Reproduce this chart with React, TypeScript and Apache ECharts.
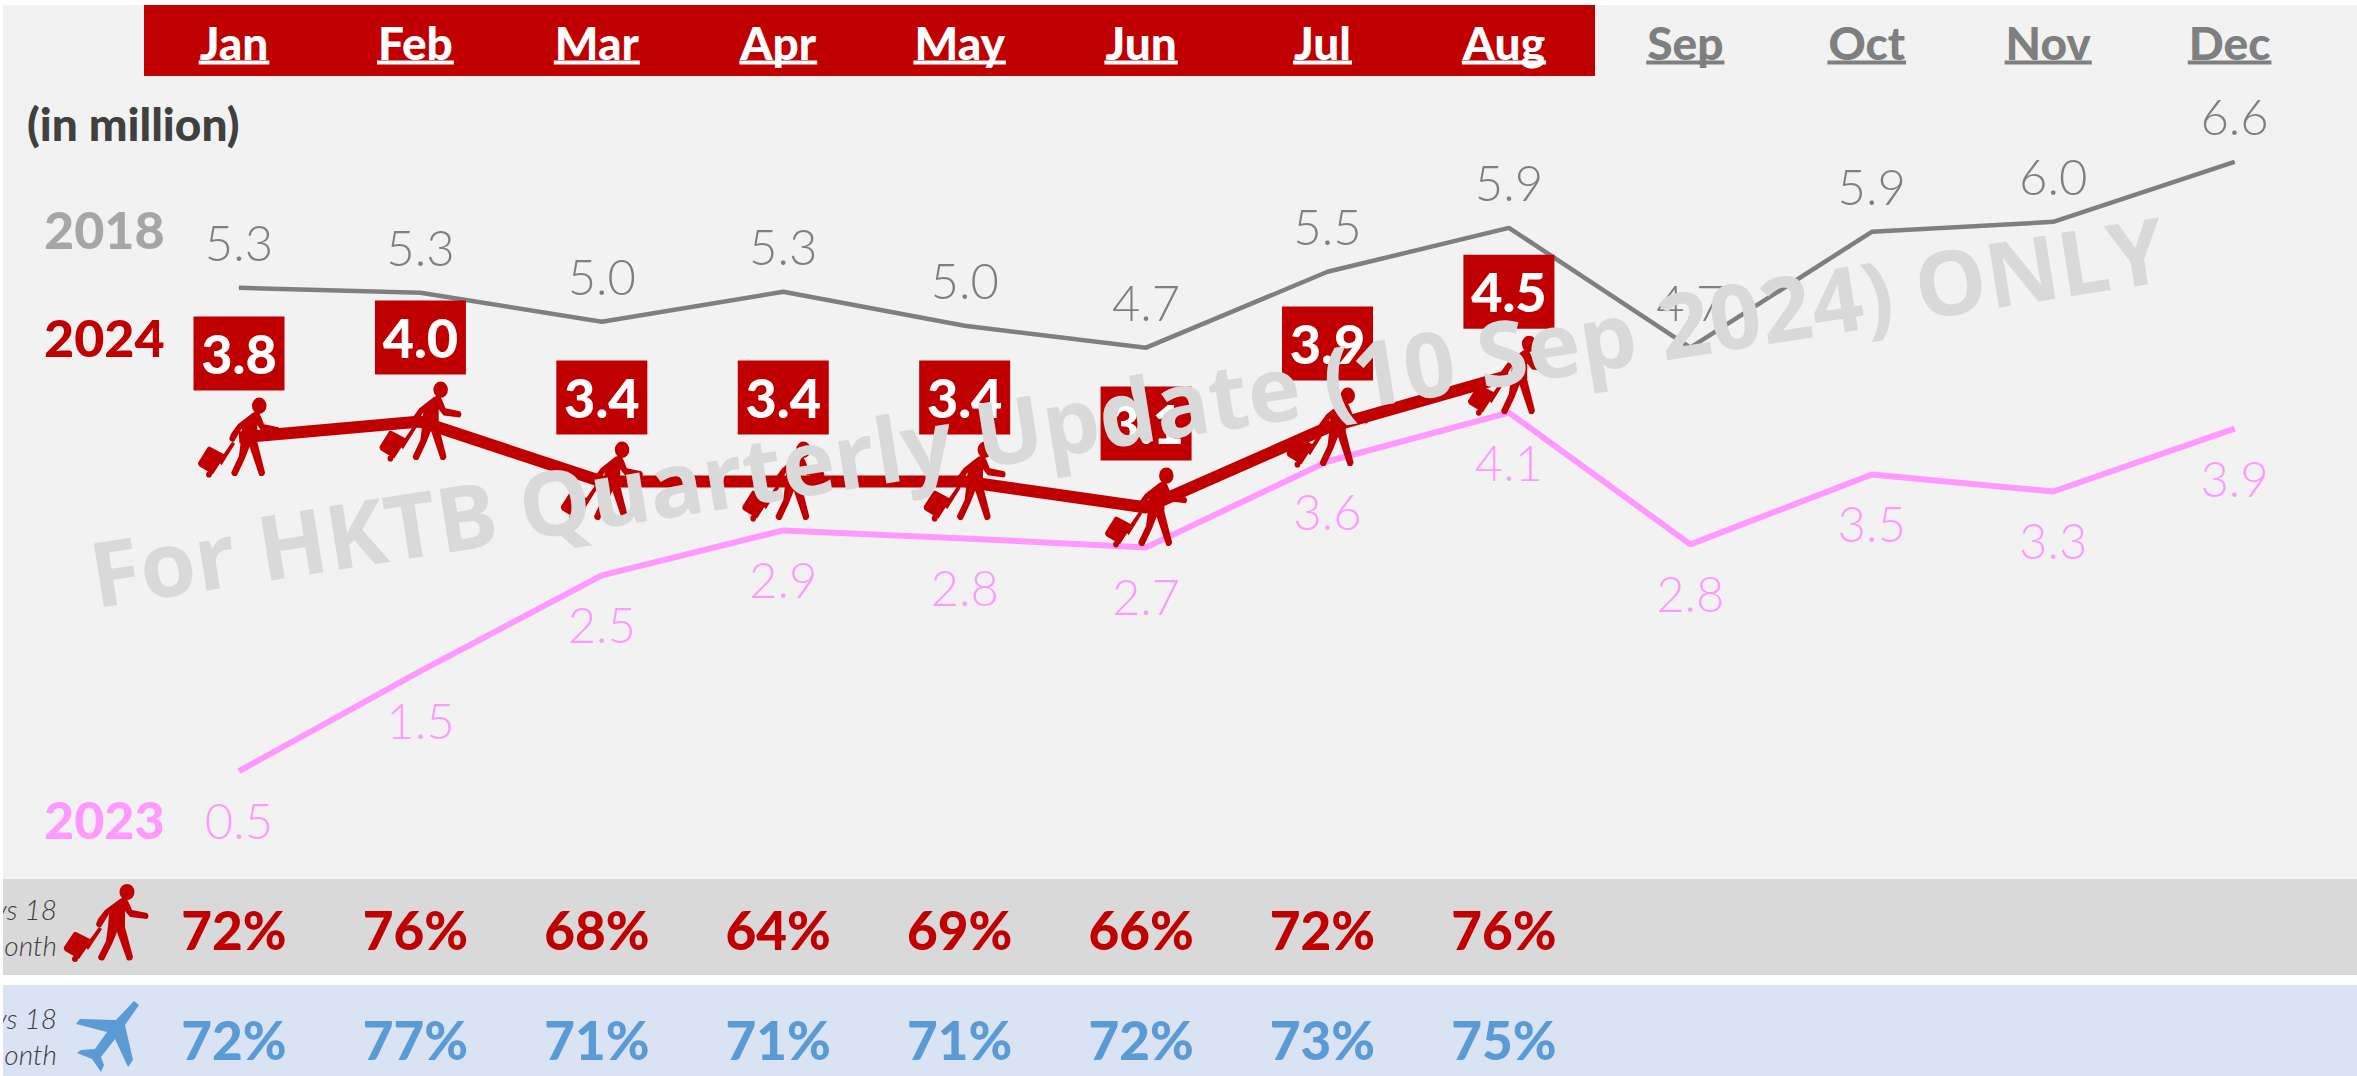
import React, { useEffect, useRef } from "react";
import * as echarts from "echarts";

const months = ["Jan", "Feb", "Mar", "Apr", "May", "Jun", "Jul", "Aug", "Sep", "Oct", "Nov", "Dec"];
const values2018 = [5.34, 5.29, 5.0, 5.3, 4.96, 4.74, 5.5, 5.94, 4.74, 5.9, 6.0, 6.6];
const values2023 = [0.5, 1.5, 2.46, 2.91, 2.83, 2.74, 3.6, 4.09, 2.77, 3.47, 3.3, 3.93];
const values2024 = [3.84, 4.0, 3.4, 3.4, 3.4, 3.14, 3.94, 4.46];
const visitorPct = [72, 76, 68, 64, 69, 66, 72, 76];
const flightPct = [72, 77, 71, 71, 71, 72, 73, 75];

const RED = "#C00000";
const GREY = "#7F7F7F";
const PINK = "#FF99FF";
const BLUE = "#5B9BD5";
const FONT = "Lato";

const personPath =
  "M70.5 8a7.5 8 0 1 1-15 0a7.5 8 0 1 1 15 0Z" +
  "M56 15C60 13 63 14 65 19L68 26L83 29Q86 32 83 35L66 33L61 27L61 43L69 73Q68 78 63 76L53 48L48 60L40 76Q35 78 34 73L42 57L44 42L45 30L37 43Q33 44 32 40L34 35L41 26Z" +
  "M35 43L38 45L24 66L21 62Z" +
  "M12 48L28 56L15 75L1 67Q-1 65 0 63L10 48Z" +
  "M14 75a3 3 0 1 1-6 0a3 3 0 1 1 6 0Z";
const planePath =
  "M58 0L63 4L49 24L57 59L52 66L39 38L25 56L28 64L25 71L16 58L1 52L5 49L19 48L31 31L0 23L4 18L40 19Z";

echarts.graphic.registerShape("personIcon", echarts.graphic.extendPath(personPath, {}) as any);
echarts.graphic.registerShape("planeIcon", echarts.graphic.extendPath(planePath, {}) as any);

function textWidth(t: string, font: string) {
  const c = document.createElement("canvas").getContext("2d")!;
  c.font = font;
  return c.measureText(t).width;
}

const sideText = (text: string, x: number, y: number, fill: string, font: string, align = "left") => ({
  type: "text",
  x,
  y,
  z: 3,
  style: { text, fill, font, textAlign: align, textVerticalAlign: "middle" },
});

const oneDecimal = (p: any) => Number(p.value).toFixed(1);

export default function App() {
  const ref = useRef<HTMLDivElement>(null);
  useEffect(() => {
    const chart = echarts.init(ref.current!, null, { renderer: "svg" });
    const headerFont = `900 46px ${FONT}`;
    const pctLabel = (color: string, list: number[]) => ({
      show: true,
      position: "inside",
      color,
      fontFamily: FONT,
      fontWeight: 900,
      fontSize: 53,
      formatter: (p: any) => `${list[p.dataIndex]}%`,
    });
    const thinLabel = (color: string, position: string, distance: number) => ({
      show: true,
      position,
      distance,
      color,
      fontFamily: FONT,
      fontWeight: 300,
      fontSize: 49,
      formatter: oneDecimal,
    });
    chart.setOption({
      animation: false,
      backgroundColor: "#FFFFFF",
      grid: [
        { left: 148.3, width: 2177, top: 122, height: 699 },
        { left: 143.3, width: 2177, top: 5, height: 71 },
        { left: 143.3, width: 2177, top: 885, height: 191 },
      ],
      xAxis: [
        { gridIndex: 0, type: "category", data: months, show: false },
        {
          gridIndex: 1,
          type: "category",
          data: months,
          position: "top",
          axisLine: { show: false },
          axisTick: { show: false },
          axisLabel: {
            inside: true,
            margin: 14,
            fontFamily: FONT,
            fontWeight: 900,
            fontSize: 46,
            interval: 0,
            color: (_: any, i: number) => (i < 8 ? "#FFFFFF" : GREY),
          },
        },
        { gridIndex: 2, type: "category", data: months, show: false },
      ],
      yAxis: [
        { gridIndex: 0, type: "value", min: 0, max: 7, show: false },
        { gridIndex: 1, type: "value", min: 0, max: 1, show: false },
        { gridIndex: 2, type: "value", min: -0.4, max: 1.336, inverse: true, show: false },
      ],
      graphic: [
        { type: "rect", z: 0, shape: { x: 3, y: 5, width: 2354, height: 875 }, style: { fill: "#F2F2F2" } },
        { type: "rect", z: 0, shape: { x: 144, y: 5, width: 1451, height: 71 }, style: { fill: RED } },
        { type: "rect", z: 0, shape: { x: 3, y: 879, width: 2354, height: 96 }, style: { fill: "#D9D9D9" } },
        { type: "rect", z: 0, shape: { x: 3, y: 985, width: 2354, height: 91 }, style: { fill: "#DAE3F3" } },
        sideText("(in million)", 27, 123, "#404040", `900 46px ${FONT}`),
        sideText("2018", 44, 229, "#A6A6A6", `900 52px ${FONT}`),
        sideText("2024", 44, 337, RED, `900 52px ${FONT}`),
        sideText("2023", 44, 819, PINK, `900 52px ${FONT}`),
        sideText("vs 18", 57, 909, "#404040", `italic 300 28px ${FONT}`, "right"),
        sideText("month", 57, 945, "#404040", `italic 300 28px ${FONT}`, "right"),
        sideText("vs 18", 57, 1018, "#404040", `italic 300 28px ${FONT}`, "right"),
        sideText("month", 57, 1054, "#404040", `italic 300 28px ${FONT}`, "right"),
        { type: "rect", z: 4, shape: { x: 0, y: 0, width: 3, height: 1076 }, style: { fill: "#FFFFFF" } },
        { type: "personIcon", z: 3, x: 64, y: 884, style: { fill: RED } },
        { type: "planeIcon", z: 3, x: 76, y: 1001, style: { fill: BLUE } },
        {
          type: "text",
          z: 100,
          x: 1127,
          y: 410,
          rotation: 0.157,
          style: {
            text: "For HKTB Quarterly Update (10 Sep 2024) ONLY",
            fill: "#D9D9D9",
            font: `700 90px "Open Sans"`,
            textAlign: "center",
            textVerticalAlign: "middle",
          },
        },
      ],
      series: [
        {
          name: "2018",
          type: "line",
          data: values2018,
          symbol: "circle",
          symbolSize: 1,
          showSymbol: true,
          itemStyle: { color: GREY },
          lineStyle: { color: GREY, width: 4.5 },
          label: thinLabel(GREY, "top", 21),
        },
        {
          name: "2023",
          type: "line",
          data: values2023,
          symbol: "circle",
          symbolSize: 1,
          showSymbol: true,
          itemStyle: { color: PINK },
          lineStyle: { color: PINK, width: 6 },
          label: thinLabel(PINK, "bottom", 24),
        },
        {
          name: "2024",
          type: "line",
          data: values2024,
          z: 4,
          symbol: "path://" + personPath,
          symbolSize: [82, 80],
          symbolKeepAspect: false,
          itemStyle: { color: RED },
          lineStyle: { color: RED, width: 12 },
          label: {
            show: true,
            position: "top",
            distance: 7,
            color: "#FFFFFF",
            backgroundColor: RED,
            width: 91,
            height: 74,
            lineHeight: 74,
            align: "center",
            fontFamily: FONT,
            fontWeight: 900,
            fontSize: 54,
            formatter: oneDecimal,
          },
        },
        {
          name: "underline",
          type: "custom",
          xAxisIndex: 1,
          yAxisIndex: 1,
          data: months.map((_, i) => i),
          silent: true,
          z: 5,
          encode: { x: 0 },
          renderItem: (_params: any, api: any) => {
            const i = api.value(0);
            const [cx, y] = api.coord([i, 0.19]);
            const w = textWidth(months[i], headerFont) + 2;
            return {
              type: "rect",
              shape: { x: cx - w / 2, y: y - 2, width: w, height: 4 },
              style: { fill: i < 8 ? "#FFFFFF" : GREY },
            };
          },
        },
        {
          name: "visitors vs 18",
          type: "scatter",
          xAxisIndex: 2,
          yAxisIndex: 2,
          symbolSize: 1,
          itemStyle: { color: "transparent", opacity: 1 },
          data: visitorPct.map((_, i) => [i, 0]),
          label: pctLabel(RED, visitorPct),
        },
        {
          name: "flights vs 18",
          type: "scatter",
          xAxisIndex: 2,
          yAxisIndex: 2,
          symbolSize: 1,
          itemStyle: { color: "transparent", opacity: 1 },
          data: flightPct.map((_, i) => [i, 1]),
          label: pctLabel(BLUE, flightPct),
        },
      ],
    });
    return () => chart.dispose();
  }, []);
  return <div ref={ref} style={{ position: "fixed", left: 0, top: 0, width: 2357, height: 1076 }} />;
}
